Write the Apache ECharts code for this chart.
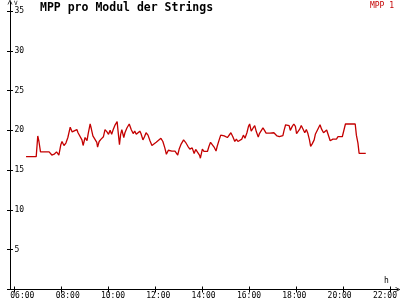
<!DOCTYPE html>
<html><head><meta charset="utf-8">
<script src="https://cdn.jsdelivr.net/npm/echarts@6/dist/echarts.min.js"></script>
<style>html,body{margin:0;padding:0;background:#fff}#c{width:400px;height:300px}</style>
</head><body><div id="c"></div>
<script>
const titleText = 'MPP pro Modul der Strings';
const seriesName = 'MPP 1';
const yUnit = 'V';
const xUnit = 'h';
const xTickLabels = ['06:00','08:00','10:00','12:00','14:00','16:00','18:00','20:00','22:00'];
const yTickLabels = ['', '5', '10', '15', '20', '25', '30', '35'];
// time of day in minutes since midnight
const minutes = [389,415,419,422,426,448,455,461,467,473,478,481,486,491,496,502,507,512,519,522,527,532,535,540,545,548,553,556,560,565,570,572,576,581,587,591,596,600,604,608,612,617,622,624,628,631,634,639,642,647,653,658,663,667,671,675,680,683,688,692,696,701,706,711,716,722,727,734,739,744,748,753,757,762,770,777,781,785,792,797,803,808,814,819,823,828,833,835,840,844,849,853,857,861,866,870,875,878,883,887,891,896,900,904,908,913,918,923,927,931,936,941,945,949,954,958,961,965,970,974,978,983,986,990,995,999,1003,1008,1013,1018,1023,1027,1031,1037,1041,1046,1049,1053,1057,1062,1065,1070,1074,1078,1081,1085,1089,1093,1098,1102,1106,1110,1114,1117,1121,1126,1129,1133,1137,1141,1145,1150,1154,1158,1162,1167,1171,1174,1179,1183,1187,1198,1203,1206,1231,1234,1238,1241,1258];
const mpp = [16.7,16.7,19.3,18.6,17.3,17.3,16.9,17.0,17.3,16.9,18.2,18.6,18.1,18.4,19.1,20.4,19.8,19.9,20.1,19.7,19.5,18.8,18.1,19.1,18.7,19.6,20.8,20.2,19.3,19.4,18.5,17.9,18.6,18.9,19.2,20.1,19.8,19.5,20.0,19.5,20.1,20.7,21.1,20.1,18.2,19.5,20.1,19.1,19.7,20.3,20.8,20.1,19.6,19.9,19.5,19.3,19.9,19.6,18.8,19.2,19.7,19.4,18.7,18.1,18.3,18.5,18.7,19.0,18.6,17.8,17.0,17.5,17.6,17.4,17.4,16.9,17.7,18.2,18.8,18.5,18.0,17.65,17.8,17.1,17.6,17.5,16.85,16.5,17.65,17.35,17.2,17.35,18.0,18.5,18.3,17.9,17.4,18.0,18.8,19.4,19.5,19.3,19.5,19.1,19.2,19.7,19.2,18.6,18.9,18.6,18.4,18.9,19.4,19.0,19.7,20.5,20.8,19.9,20.3,20.6,19.85,19.15,19.6,19.65,20.3,20.0,19.65,19.6,19.65,19.5,19.7,19.6,19.3,19.2,19.0,19.35,20.0,20.7,20.5,20.6,20.0,20.5,20.8,20.5,19.6,19.85,20.15,20.6,20.1,19.7,20.1,19.6,18.8,18.0,18.3,18.8,19.5,19.3,20.3,20.7,20.15,19.7,19.85,20.05,19.85,18.7,18.7,18.9,19.0,18.9,19.2,19.2,19.4,20.8,20.8,19.4,18.4,17.1,17.1];

const FONT = 'DejaVu Sans Mono';
const RED = '#c40000';
const XMIN = 360, XMAX = 1320, XINT = 120;
const YMIN = 0, YMAX = 35, YINT = 5;
const arrowUp = 'path://M0,10 L5,0 L10,10 L8.6,10 L5,3 L1.4,10 Z';
const hidden = {show:false};
const xFmt = v => xTickLabels[Math.round((v - XMIN) / XINT)] || '';
const yFmt = v => yTickLabels[Math.round((v - YMIN) / YINT)] || '';

const chart = echarts.init(document.getElementById('c'), null, {renderer:'canvas'});
chart.setOption({
  backgroundColor: '#fff',
  animation: false,
  title: [
    {text: titleText, left: 40, top: 2, padding: 0,
     textStyle: {fontFamily: FONT, fontSize: 11.5, fontWeight: 'bold', color: '#000'}},
    {text: yUnit, left: 14, top: 0, padding: 0,
     textStyle: {fontFamily: FONT, fontSize: 6, fontWeight: 'normal', color: '#000'}},
    {text: xUnit, left: 384, top: 277, padding: 0,
     textStyle: {fontFamily: FONT, fontSize: 8, fontWeight: 'normal', color: '#000'}}
  ],
  legend: {
    right: 6, top: 2, padding: 0, itemWidth: 0, itemHeight: 0, itemGap: 0,
    icon: 'rect', selectedMode: false,
    textStyle: {fontFamily: FONT, fontSize: 8, color: RED},
    data: [seriesName]
  },
  grid: [
    {left: 14.7, right: 10, top: 11, bottom: 10.5},   // data
    {left: 10, right: 2, top: 2, bottom: 10.5},       // axis lines with arrows
    {left: 10, right: 2, top: 11, bottom: 10.5},      // y ticks/labels
    {left: 10.3, right: 14.4, top: 11, bottom: 10.5}  // x labels
  ],
  xAxis: [
    {gridIndex: 0, type: 'value', position: 'bottom', min: XMIN, max: XMAX, interval: XINT,
     axisLine: hidden, splitLine: hidden, axisLabel: hidden,
     axisTick: {show: true, inside: false, length: 3, lineStyle: {color: '#000', width: 1}}},
    {gridIndex: 0, type: 'value', position: 'bottom', offset: 0, min: XMIN, max: XMAX, interval: XINT,
     axisLine: hidden, splitLine: hidden, axisLabel: hidden,
     axisTick: {show: true, inside: true, length: 3, lineStyle: {color: '#000', width: 1}}},
    {gridIndex: 1, type: 'value', position: 'bottom', min: 0, max: 1,
     axisLine: {show: true, onZero: false, symbol: ['none', arrowUp], symbolSize: [7, 5],
                lineStyle: {color: '#000', width: 1}},
     axisTick: hidden, axisLabel: hidden, splitLine: hidden},
    {gridIndex: 2, type: 'value', min: 0, max: 1, show: false},
    {gridIndex: 3, type: 'value', position: 'bottom', min: XMIN, max: XMAX, interval: XINT,
     axisLine: hidden, axisTick: hidden, splitLine: hidden,
     axisLabel: {show: true, align: 'left', margin: 3, formatter: xFmt,
                 fontFamily: FONT, fontSize: 8, color: '#000'}}
  ],
  yAxis: [
    {gridIndex: 0, type: 'value', min: YMIN, max: YMAX, interval: YINT, show: false},
    {gridIndex: 1, type: 'value', position: 'left', min: 0, max: 1,
     axisLine: {show: true, onZero: false, symbol: ['none', arrowUp], symbolSize: [7, 5],
                lineStyle: {color: '#000', width: 1}},
     axisTick: hidden, axisLabel: hidden, splitLine: hidden},
    {gridIndex: 2, type: 'value', position: 'left', min: YMIN, max: YMAX, interval: YINT,
     axisLine: hidden, splitLine: hidden,
     axisTick: {show: true, inside: false, length: 3, lineStyle: {color: '#000', width: 1}},
     axisLabel: {show: true, inside: true, margin: 4.5, formatter: yFmt,
                 fontFamily: FONT, fontSize: 8, color: '#000'}},
    {gridIndex: 2, type: 'value', position: 'left', offset: 0, min: YMIN, max: YMAX, interval: YINT,
     axisLine: hidden, splitLine: hidden, axisLabel: hidden,
     axisTick: {show: true, inside: true, length: 3, lineStyle: {color: '#000', width: 1}}},
    {gridIndex: 3, type: 'value', min: YMIN, max: YMAX, show: false}
  ],
  series: [{
    name: seriesName, type: 'line', xAxisIndex: 0, yAxisIndex: 0,
    data: minutes.map((m, i) => [m, mpp[i]]),
    showSymbol: false, symbol: 'none',
    lineStyle: {color: RED, width: 1.3},
    itemStyle: {color: RED}
  }]
});
</script>
</body></html>
